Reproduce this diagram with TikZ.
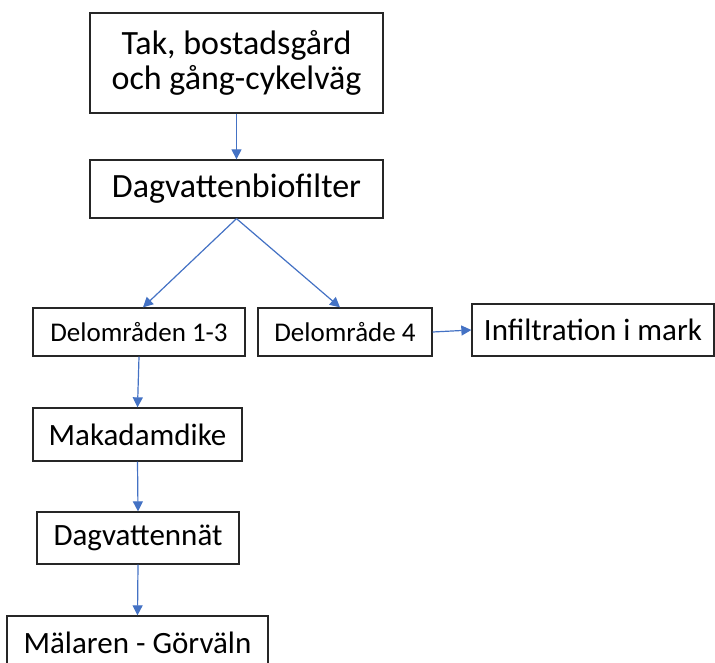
\documentclass[tikz,border=0pt]{standalone}
\usepackage{fontspec}
\setmainfont{Carlito}
\usetikzlibrary{positioning}
\usetikzlibrary{arrows.meta}
\definecolor{flowblue}{HTML}{4472C4}
\definecolor{boxline}{HTML}{262626}

\begin{document}
\begin{tikzpicture}[x=1pt,y=-1pt,
	box/.style={draw=boxline,line width=1.3pt,inner sep=0pt,align=center,
	            font=\fontsize{31}{34}\selectfont},
	bigbox/.style={box,font=\fontsize{34}{35}\selectfont},
	smallbox/.style={box,font=\fontsize{27}{30}\selectfont},
	flow/.style={->,flowblue,line width=1.2pt},
	>={Triangle[length=10pt,width=10pt]}]

	\useasboundingbox (0,0) rectangle (715,663);

	%sources and biofilter
	\node[bigbox,minimum width=293,minimum height=100] (tak) at (236.5,63)
		{Tak, bostadsgård\\och gång-cykelväg};
	\node[bigbox,minimum width=293,minimum height=58] (bio) at (236.5,189)
		{Dagvattenbiofilter};

	%sub areas
	\node[smallbox,minimum width=212,minimum height=48] (del13) at (139,332)
		{Delområden 1-3};
	\node[smallbox,minimum width=174,minimum height=48] (del4) at (345,332)
		{Delområde 4};
	\node[box,minimum width=242,minimum height=52] (infil) at (593,330)
		{Infiltration i mark};

	%downstream chain
	\node[box,minimum width=209,minimum height=53] (makadam) at (137.5,434.5)
		{Makadamdike};
	\node[box,minimum width=202,minimum height=52] (natet) at (138,538)
		{Dagvattennät};
	\node[box,minimum width=261,minimum height=54] (malaren) at (137.5,643)
		{Mälaren - Görväln};

	%arrows
	\draw[flow] (tak.south) -- (bio.north);
	\draw[flow] (bio.south) -- ([xshift=4]del13.north);
	\draw[flow] (bio.south) -- ([xshift=-5]del4.north);
	\draw[flow] (del4.east) -- (infil.west);
	\draw[flow] (del13.south) -- (makadam.north);
	\draw[flow] (makadam.south) -- (natet.north);
	\draw[flow] (natet.south) -- (malaren.north);

\end{tikzpicture}
\end{document}
